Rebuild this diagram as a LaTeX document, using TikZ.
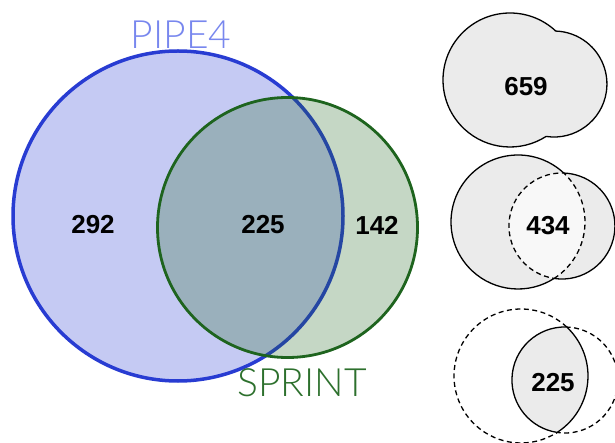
\documentclass[tikz,border=0pt]{standalone}
\usepackage{fontspec}
\setmainfont{Liberation Sans}
\IfFontExistsTF{Lato Light}{\newfontfamily\lightfont{Lato Light}}{\newfontfamily\lightfont{Lato}}
\usetikzlibrary{positioning}
\definecolor{pipeblue}{RGB}{40,60,210}
\definecolor{pipelabel}{RGB}{120,135,238}
\definecolor{sprintgreen}{RGB}{30,100,30}
\definecolor{sprintlabel}{RGB}{45,112,45}
\definecolor{minigray}{RGB}{235,235,235}
\definecolor{minilight}{RGB}{248,248,248}
\tikzset{
  count/.style={font=\bfseries\fontsize{26}{26}\selectfont},
  setname/.style={font=\lightfont\fontsize{39}{39}\selectfont},
  solidedge/.style={draw=black, line width=1.3pt},
  dashededge/.style={draw=black, line width=1.3pt, dash pattern=on 5pt off 3.5pt},
}

\begin{document}
\begin{tikzpicture}[x=1pt, y=1pt]
  \useasboundingbox (0,0) rectangle (615,442);

  % main diagram
  \coordinate (pipe) at (178,226);
  \coordinate (sprint) at (287.5,214.5);
  \fill[pipeblue, fill opacity=0.27] (pipe) circle[radius=165];
  \draw[pipeblue, line width=3.5pt] (pipe) circle[radius=165];
  \fill[sprintgreen, fill opacity=0.26] (sprint) circle[radius=130];
  \draw[sprintgreen, line width=2.8pt] (sprint) circle[radius=130];

  \node[setname, text=pipelabel] (pipename) at (181,407) {PIPE4};
  \node[setname, text=sprintlabel] (sprintname) at (302,59) {SPRINT};
  \node[count] (onlypipe) at (93,217) {292};
  \node[count] (both) at (263,217) {225};
  \node[count] (onlysprint) at (377,217) {142};

  % union
  \coordinate (ua) at (510,362);
  \fill[minigray, solidedge] (ua) ++(47:67) arc[start angle=47, end angle=302.6, radius=67]
    arc[start angle=-98.5, end angle=88.1, radius=53] -- cycle;
  \node[count] (union) at (526,355) {659};

  % symmetric difference
  \coordinate (sa) at (518,220);
  \fill[minigray, solidedge] (sa) ++(47:67) arc[start angle=47, end angle=302.6, radius=67]
    arc[start angle=-98.5, end angle=88.1, radius=53] -- cycle;
  \fill[minilight, dashededge] (sa) ++(-57.4:67) arc[start angle=-57.4, end angle=47, radius=67]
    arc[start angle=88.1, end angle=261.5, radius=53] -- cycle;
  \node[count] (symdiff) at (548,216) {434};

  % intersection
  \coordinate (ia) at (521,66);
  \draw[dashededge] (ia) ++(47:67) arc[start angle=47, end angle=302.6, radius=67]
    arc[start angle=-98.5, end angle=88.1, radius=53] -- cycle;
  \fill[minigray, solidedge] (ia) ++(-57.4:67) arc[start angle=-57.4, end angle=47, radius=67]
    arc[start angle=88.1, end angle=261.5, radius=53] -- cycle;
  \node[count] (inter) at (553,59) {225};
\end{tikzpicture}
\end{document}
